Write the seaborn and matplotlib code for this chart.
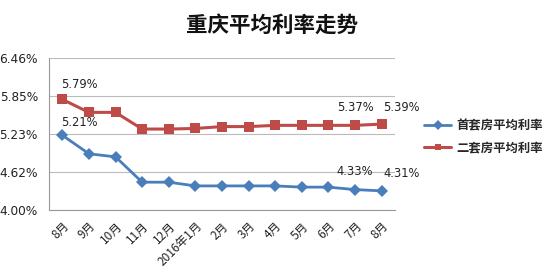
import matplotlib
matplotlib.use("Agg")
import matplotlib.pyplot as plt
import seaborn as sns
import pandas as pd
import numpy as np
from matplotlib.ticker import FixedLocator, NullFormatter

sns.set_theme(style="white")
plt.rcParams['font.family'] = ['Noto Sans CJK SC', 'DejaVu Sans']

categories = ["8月", "9月", "10月", "11月", "12月", "2016年1月", "2月", "3月", "4月", "5月", "6月", "7月", "8月"]
first_home = [5.21, 4.91, 4.86, 4.45, 4.45, 4.39, 4.39, 4.39, 4.39, 4.37, 4.37, 4.33, 4.31]
second_home = [5.79, 5.58, 5.58, 5.31, 5.31, 5.32, 5.35, 5.35, 5.37, 5.37, 5.37, 5.37, 5.39]
series_names = ["首套房平均利率", "二套房平均利率"]
y_ticks = [4.00, 4.615, 5.23, 5.845, 6.46]
y_tick_labels = ["4.00%", "4.62%", "5.23%", "5.85%", "6.46%"]

pos = np.arange(len(categories))
df = pd.DataFrame({
    "pos": np.concatenate([pos, pos]),
    "rate": first_home + second_home,
    "series": [series_names[0]] * len(pos) + [series_names[1]] * len(pos),
})

blue = "#4A7EBB"
red = "#BE4B48"

fig = plt.figure(figsize=(5.48, 2.77), dpi=100)
ax = fig.add_axes([49 / 548, 1 - 210 / 277, (395 - 49) / 548, (210 - 58) / 277])

sns.lineplot(data=df, x="pos", y="rate", hue="series", style="series",
             palette={series_names[0]: blue, series_names[1]: red},
             markers={series_names[0]: "D", series_names[1]: "s"},
             dashes=False, markersize=6.5, linewidth=2, markeredgewidth=0,
             ax=ax, legend=True)
for ln in ax.get_lines():
    if ln.get_marker() == "s":
        ln.set_markersize(7.5)
        ln.set_linewidth(2.2)

ax.set_xlim(-0.5, len(categories) - 0.5)
ax.set_ylim(4.00, 6.46)
ax.set_yticks(y_ticks)
ax.set_yticklabels(y_tick_labels, fontsize=8.7, color="#222222",
                   family=['DejaVu Sans'])
ax.set_xticks(pos)
ax.set_xticklabels(categories, rotation=45, ha="right", rotation_mode="anchor",
                   fontsize=8.5, color="#222222")
ax.xaxis.set_minor_locator(FixedLocator(np.arange(-0.5, len(categories), 1.0)))
ax.xaxis.set_minor_formatter(NullFormatter())
ax.tick_params(axis="x", which="major", length=0, pad=7)
ax.tick_params(axis="x", which="minor", length=4, color="#999999", width=0.8, direction="out")
ax.tick_params(axis="y", length=0, pad=8)
ax.set_xlabel("")
ax.set_ylabel("")

ax.grid(axis="y", color="#BBBBBB", linewidth=0.8)
ax.set_axisbelow(True)
for s in ["top", "right"]:
    ax.spines[s].set_visible(False)
for s in ["left", "bottom"]:
    ax.spines[s].set_color("#999999")
    ax.spines[s].set_linewidth(0.8)

lab_kw = dict(textcoords="offset pixels", fontsize=8.3, color="#222222",
              va="center", family=['DejaVu Sans'])
ax.annotate(f"{second_home[0]:.2f}%", (0, second_home[0]), xytext=(-1, 15), ha="left", **lab_kw)
ax.annotate(f"{first_home[0]:.2f}%", (0, first_home[0]), xytext=(-1, 13), ha="left", **lab_kw)
ax.annotate(f"{second_home[11]:.2f}%", (11, second_home[11]), xytext=(0, 18), ha="center", **lab_kw)
ax.annotate(f"{second_home[12]:.2f}%", (12, second_home[12]), xytext=(20, 17), ha="center", **lab_kw)
ax.annotate(f"{first_home[11]:.2f}%", (11, first_home[11]), xytext=(0, 18), ha="center", **lab_kw)
ax.annotate(f"{first_home[12]:.2f}%", (12, first_home[12]), xytext=(20, 17), ha="center", **lab_kw)

handles, labels = ax.get_legend_handles_labels()
for h in handles:
    h.set_markersize(5)
leg = ax.legend(handles, labels, loc="center left", bbox_to_anchor=(424 / 548, 1 - 137 / 277),
                bbox_transform=fig.transFigure, frameon=False,
                prop={"family": ['Noto Sans CJK SC'], "weight": "bold", "size": 8.9},
                handlelength=2.2, handletextpad=0.4, labelspacing=0.7, borderaxespad=0,
                borderpad=0)

fig.text(272 / 548, 1 - 25 / 277, "重庆平均利率走势", ha="center", va="center",
         fontsize=15.5, fontweight="bold", color="#111111")

fig.savefig("out.png", dpi=100)
